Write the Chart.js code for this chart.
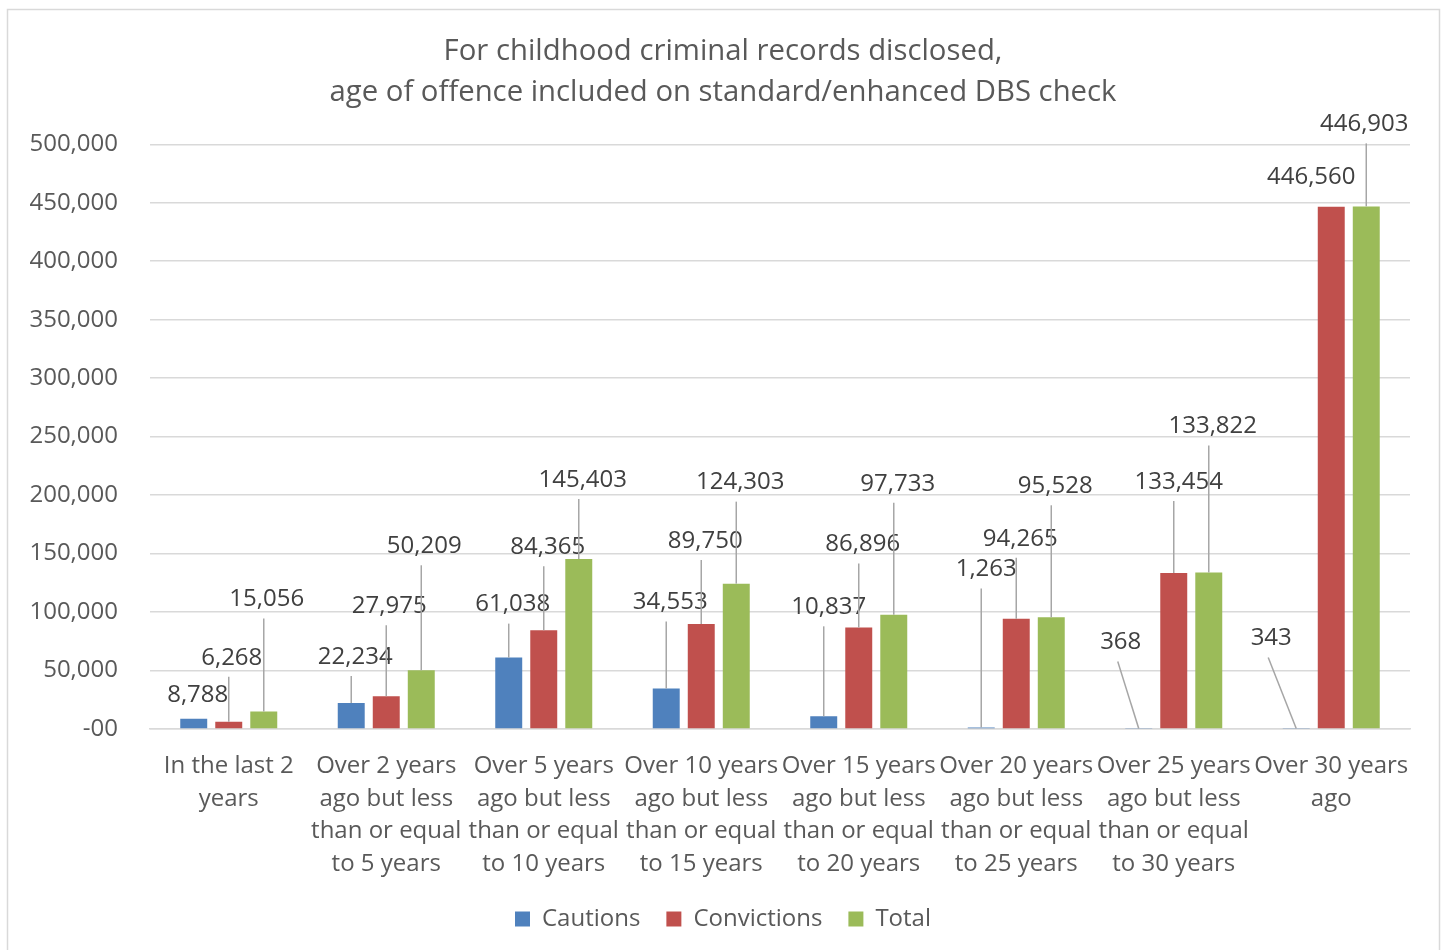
<!DOCTYPE html>
<html>
<head>
<meta charset="utf-8">
<script src="https://cdn.jsdelivr.net/npm/chart.js@4"></script>
<style>
  body { margin: 0; background: #fff; }
  canvas { display: block; }
</style>
</head>
<body>
<canvas id="dbsChart" width="1443" height="950"></canvas>
<script>
const categories = [
  ['In the last 2', 'years'],
  ['Over 2 years', 'ago but less', 'than or equal', 'to 5 years'],
  ['Over 5 years', 'ago but less', 'than or equal', 'to 10 years'],
  ['Over 10 years', 'ago but less', 'than or equal', 'to 15 years'],
  ['Over 15 years', 'ago but less', 'than or equal', 'to 20 years'],
  ['Over 20 years', 'ago but less', 'than or equal', 'to 25 years'],
  ['Over 25 years', 'ago but less', 'than or equal', 'to 30 years'],
  ['Over 30 years', 'ago']
];
const cautions    = [8788, 22234, 61038, 34553, 10837, 1263, 368, 343];
const convictions = [6268, 27975, 84365, 89750, 86896, 94265, 133454, 446560];
const total       = [15056, 50209, 145403, 124303, 97733, 95528, 133822, 446903];
const yTicks = [0, 50000, 100000, 150000, 200000, 250000, 300000, 350000, 400000, 450000, 500000];

// where Excel put each data label, relative to the top of its bar (px)
const labelShift = [
  [[4,-24],[4,-46],[4,-53],[4,-86],[5,-109],[5,-158],[-18,-86],[-25,-90]],
  [[3,-64],[3,-90],[4,-83],[4,-83],[4,-83],[4,-80],[5,-91],[-20,-30]],
  [[3,-112],[3,-124],[4,-79],[4,-101],[4,-131],[4,-131],[4,-146],[-2,-82]]
];

const fontFamily = '"Open Sans", "Noto Sans", sans-serif';
const textGrey = '#595959';

const frame = {
  id: 'frame',
  afterLayout(chart) {
    // y labels stick out past the padded left edge; widen the clip box
    chart.scales.y.left = 20;
  },
  beforeDraw(chart) {
    const c = chart.ctx;
    c.save();
    c.fillStyle = '#fff';
    c.fillRect(0, 0, chart.width, chart.height);
    c.strokeStyle = '#d9d9d9';
    c.lineWidth = 1.5;
    c.strokeRect(7.5, 9.5, 1432, 945);
    c.restore();
  }
};

const leaderLabels = {
  id: 'leaderLabels',
  afterDatasetsDraw(chart) {
    const c = chart.ctx;
    c.save();
    c.font = '24px ' + fontFamily;
    c.textAlign = 'center';
    c.textBaseline = 'middle';
    chart.data.datasets.forEach((ds, di) => {
      chart.getDatasetMeta(di).data.forEach((bar, i) => {
        const [dx, dy] = labelShift[di][i];
        const lx = bar.x + dx, ly = bar.y + dy;
        const startY = ly + 19;
        if (bar.y - startY > 15) {
          const startX = Math.abs(dx) < 8 ? bar.x : lx - 3;
          c.strokeStyle = '#a6a6a6';
          c.lineWidth = 1.5;
          c.beginPath();
          c.moveTo(startX, startY);
          c.lineTo(bar.x, bar.y);
          c.stroke();
        }
        c.fillStyle = '#404040';
        c.fillText(ds.data[i].toLocaleString('en-US'), lx, ly);
      });
    });
    c.restore();
  }
};

new Chart(document.getElementById('dbsChart'), {
  type: 'bar',
  data: {
    labels: categories,
    datasets: [
      { label: 'Cautions', data: cautions, backgroundColor: '#4f81bd' },
      { label: 'Convictions', data: convictions, backgroundColor: '#c0504d' },
      { label: 'Total', data: total, backgroundColor: '#9bbb59' }
    ]
  },
  options: {
    responsive: false,
    animation: false,
    categoryPercentage: 0.667,
    barPercentage: 0.77,
    layout: { padding: { left: 36, right: 33, top: 32, bottom: 9 } },
    scales: {
      x: {
        afterFit(axis) { axis.height = 152; },
        grid: { display: false, drawTicks: false },
        border: { color: '#d9d9d9', width: 1.5 },
        ticks: {
          color: textGrey,
          font: { family: fontFamily, size: 24, lineHeight: 1.36 },
          maxRotation: 0,
          autoSkip: false,
          padding: 21
        }
      },
      y: {
        min: 0,
        max: 500000,
        afterBuildTicks(axis) { axis.ticks = yTicks.map(v => ({ value: v })); },
        afterFit(axis) { axis.width = 114; },
        grid: { color: '#d9d9d9', lineWidth: 1.5, drawTicks: false },
        border: { display: false },
        ticks: {
          color: textGrey,
          font: { family: fontFamily, size: 24 },
          padding: 32,
          callback: v => v === 0 ? '-00' : v.toLocaleString('en-US')
        }
      }
    },
    plugins: {
      title: {
        display: true,
        text: ['For childhood criminal records disclosed,', 'age of offence included on standard/enhanced DBS check'],
        color: textGrey,
        font: { family: fontFamily, size: 29.3, weight: 'normal', lineHeight: 1.37 },
        padding: { top: 0, bottom: 32 }
      },
      legend: {
        position: 'bottom',
        labels: {
          color: textGrey,
          font: { family: fontFamily, size: 24 },
          boxWidth: 15,
          boxHeight: 15,
          padding: 26
        }
      },
      tooltip: { enabled: false }
    }
  },
  plugins: [frame, leaderLabels]
});
</script>
</body>
</html>
